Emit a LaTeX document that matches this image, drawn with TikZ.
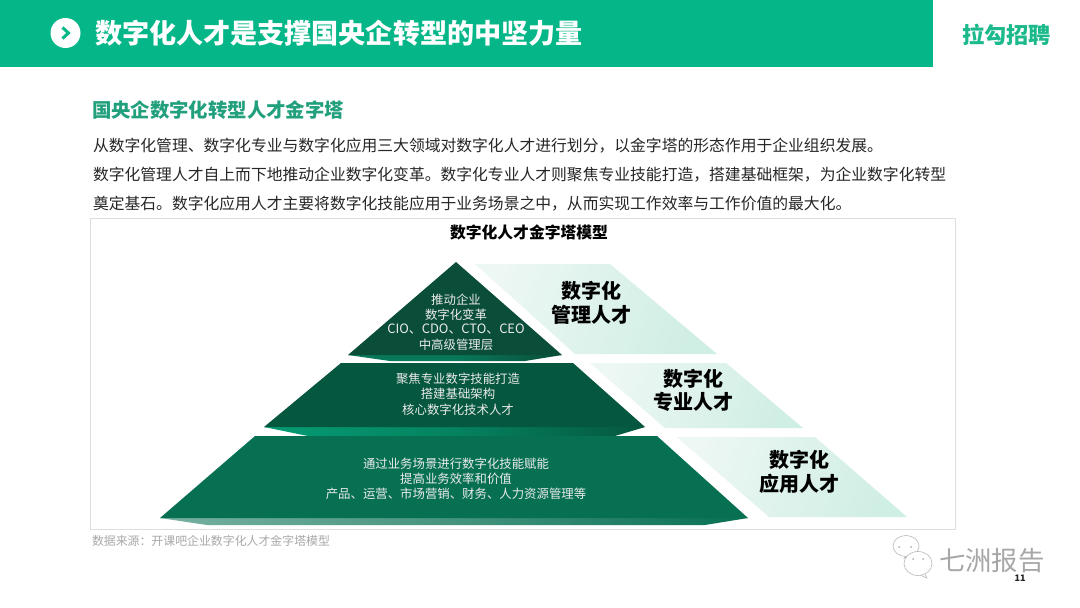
\documentclass[tikz,border=0pt]{standalone}
\usepackage{fontspec}
\setmainfont{Noto Sans CJK SC}
\newcommand{\fsz}[1]{\fontsize{#1pt}{#1pt}\selectfont}
\definecolor{hdr}{HTML}{05B788}
\definecolor{brand}{HTML}{1CB98D}
\definecolor{subh}{HTML}{22A07E}
\definecolor{bodyc}{HTML}{262626}
\definecolor{frame}{HTML}{DEDEDE}
\definecolor{pyrA}{HTML}{0A4E3A}
\definecolor{pyrB}{HTML}{05573F}
\definecolor{pyrC}{HTML}{077053}
\definecolor{paleL}{HTML}{EDF7F4}
\definecolor{paleR}{HTML}{CFEEE4}
\definecolor{srcc}{HTML}{A8A8A8}
\definecolor{wm}{HTML}{8A8A8A}
\tikzset{
 txt/.style={inner sep=0pt,outer sep=0pt,align=center},
 bodyline/.style={txt,anchor=west,text=bodyc,font=\fsz{15.8}},
 intxt/.style={txt,text=white!92!black,font=\fsz{12.4}},
 tag/.style={txt,text=black,font=\fsz{20}\bfseries},
 pale/.style={left color=paleL,right color=paleR,draw=none,shading angle=70},
 bubble/.style={draw=wm!60!white,fill=white,line width=.6pt},
}
\begin{document}
\begin{tikzpicture}[x=1pt,y=-1pt]
\useasboundingbox (0,0) rectangle (1080,608);
\fill[white] (0,0) rectangle (1080,608);
% header
\fill[hdr] (0,0) rectangle (933,67);
\fill[white] (65.5,33) circle (15);
\draw[hdr,line width=3pt] (62.5,27.5) -- (68.5,33) -- (62.5,38.5);
\node[txt,anchor=west,text=white,font=\fsz{27.1}\bfseries] (title) at (95,33.5) {数字化人才是支撑国央企转型的中坚力量};
\node[txt,anchor=west,text=brand,font=\fsz{22.2}\bfseries] (brandname) at (962,35) {拉勾招聘};
% text
\node[txt,anchor=west,text=subh,font=\fsz{19.4}\bfseries] (subhead) at (92,110.5) {国央企数字化转型人才金字塔};
\node[bodyline] (l1) at (93,146) {从数字化管理、数字化专业与数字化应用三大领域对数字化人才进行划分，以金字塔的形态作用于企业组织发展。};
\node[bodyline] (l2) at (93,175) {数字化管理人才自上而下地推动企业数字化变革。数字化专业人才则聚焦专业技能打造，搭建基础框架，为企业数字化转型};
\node[bodyline] (l3) at (93,204) {奠定基石。数字化应用人才主要将数字化技能应用于业务场景之中，从而实现工作效率与工作价值的最大化。};
% frame
\draw[frame,line width=1pt] (90,218) rectangle (955,529);
\node[txt,text=black,font=\fsz{15.8}\bfseries] (ptitle) at (529,232) {数字化人才金字塔模型};
% right side bands
\path[pale] (475,264) -- (610,264) -- (717,354) -- (575,354) -- cycle;
\path[pale] (590,363) -- (726,363) -- (803,428) -- (665,428) -- cycle;
\path[pale] (677,437) -- (815,437) -- (907,517) -- (769,517) -- cycle;
% pyramid strips
\path[left color=pyrA!60!hdr,right color=pyrA,middle color=pyrA!60!hdr] (348,355) -- (390,361) -- (525,361) -- (562,355) -- cycle;
\path[left color=hdr!85!black,right color=pyrB,middle color=pyrB!55!hdr] (264,427) -- (308,436) -- (615,436) -- (645,427) -- cycle;
\path[left color=pyrC!55!white,right color=pyrC,middle color=pyrC!75!white] (160,518) -- (207,525) -- (705,525) -- (748,518) -- cycle;
% pyramid
\fill[pyrA] (456,262) -- (562,355) -- (348,355) -- cycle;
\fill[pyrB] (341,363) -- (573,363) -- (645,427) -- (264,427) -- cycle;
\fill[pyrC] (255,436) -- (657,436) -- (748,518) -- (160,518) -- cycle;
% pyramid text
\node[intxt] (a1) at (456,299.5) {推动企业};
\node[intxt] (a2) at (456,314.5) {数字化变革};
\node[intxt,font=\fsz{12.9}] (a3) at (456,329) {CIO、CDO、CTO、CEO};
\node[intxt] (a4) at (456,344.5) {中高级管理层};
\node[intxt] (b1) at (458,378.5) {聚焦专业数字技能打造};
\node[intxt] (b2) at (458,393.5) {搭建基础架构};
\node[intxt] (b3) at (458,409.5) {核心数字化技术人才};
\node[intxt] (c1) at (456,463.5) {通过业务场景进行数字化技能赋能};
\node[intxt] (c2) at (456,478.5) {提高业务效率和价值};
\node[intxt] (c3) at (456,493.5) {产品、运营、市场营销、财务、人力资源管理等};
% tags
\node[tag] (t1a) at (591,291) {数字化};
\node[tag] (t1b) at (591,315) {管理人才};
\node[tag] (t2a) at (693,379) {数字化};
\node[tag] (t2b) at (693,402) {专业人才};
\node[tag] (t3a) at (799,460) {数字化};
\node[tag] (t3b) at (799,484) {应用人才};
% source
\node[txt,anchor=west,text=srcc,font=\fsz{11.9}] (src) at (92,541) {数据来源：开课吧企业数字化人才金字塔模型};
% watermark
\draw[bubble] (908,554) -- (904,558) -- (912,556);
\draw[bubble] (906,546) ellipse (13 and 10.5);
\draw[bubble] (925,574) -- (927,578) -- (920,575);
\draw[bubble] (918,563.5) ellipse (14 and 12);
\fill[wm!70!white] (899,547) circle (1) (911,547) circle (1) (913,559) circle (1) (923,559) circle (1);
\node[txt,anchor=west,text=wm!75!white,font=\fsz{26.4}] (wmt) at (939,561) {七洲报告};
\node[txt,text=bodyc,font=\fsz{9}\bfseries] (pg) at (1020,578) {11};
\end{tikzpicture}
\end{document}
